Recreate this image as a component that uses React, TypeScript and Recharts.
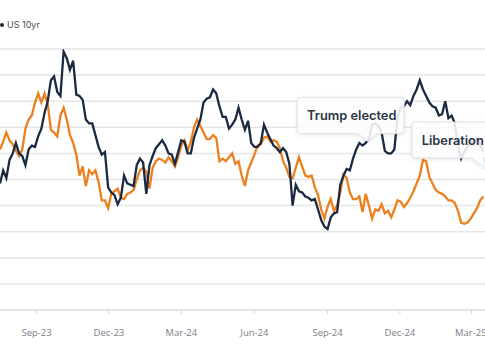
import { CartesianGrid, Line, LineChart, ReferenceDot, XAxis, YAxis } from 'recharts';

const DATES = [
  '2023-07-31', '2023-08-04', '2023-08-08', '2023-08-12', '2023-08-16', '2023-08-20', '2023-08-24', '2023-08-28', '2023-09-01', '2023-09-05',
  '2023-09-09', '2023-09-13', '2023-09-17', '2023-09-21', '2023-09-25', '2023-09-29', '2023-10-03', '2023-10-07', '2023-10-11', '2023-10-15',
  '2023-10-19', '2023-10-23', '2023-10-27', '2023-10-31', '2023-11-04', '2023-11-08', '2023-11-12', '2023-11-16', '2023-11-20', '2023-11-24',
  '2023-11-28', '2023-12-02', '2023-12-06', '2023-12-10', '2023-12-14', '2023-12-18', '2023-12-22', '2023-12-26', '2023-12-30', '2024-01-03',
  '2024-01-07', '2024-01-11', '2024-01-15', '2024-01-19', '2024-01-23', '2024-01-27', '2024-01-31', '2024-02-04', '2024-02-08', '2024-02-12',
  '2024-02-16', '2024-02-20', '2024-02-24', '2024-02-28', '2024-03-03', '2024-03-07', '2024-03-11', '2024-03-15', '2024-03-19', '2024-03-23',
  '2024-03-27', '2024-03-31', '2024-04-04', '2024-04-08', '2024-04-12', '2024-04-16', '2024-04-20', '2024-04-24', '2024-04-28', '2024-05-02',
  '2024-05-06', '2024-05-10', '2024-05-14', '2024-05-18', '2024-05-22', '2024-05-26', '2024-05-30', '2024-06-03', '2024-06-07', '2024-06-11',
  '2024-06-15', '2024-06-19', '2024-06-23', '2024-06-27', '2024-07-01', '2024-07-05', '2024-07-09', '2024-07-13', '2024-07-17', '2024-07-21',
  '2024-07-25', '2024-07-29', '2024-08-02', '2024-08-06', '2024-08-10', '2024-08-14', '2024-08-18', '2024-08-22', '2024-08-26', '2024-08-30',
  '2024-09-03', '2024-09-07', '2024-09-11', '2024-09-15', '2024-09-19', '2024-09-23', '2024-09-27', '2024-10-01', '2024-10-05', '2024-10-09',
  '2024-10-13', '2024-10-17', '2024-10-21', '2024-10-25', '2024-10-29', '2024-11-02', '2024-11-06', '2024-11-10', '2024-11-14', '2024-11-18',
  '2024-11-22', '2024-11-26', '2024-11-30', '2024-12-04', '2024-12-08', '2024-12-12', '2024-12-16', '2024-12-20', '2024-12-24', '2024-12-28',
  '2025-01-01', '2025-01-05', '2025-01-09', '2025-01-13', '2025-01-17', '2025-01-21', '2025-01-25', '2025-01-29', '2025-02-02', '2025-02-06',
  '2025-02-10', '2025-02-14', '2025-02-18', '2025-02-22', '2025-02-26', '2025-03-02', '2025-03-06', '2025-03-10', '2025-03-14', '2025-03-18',
  '2025-03-22', '2025-03-26', '2025-03-30',
];

const US_10YR = [
  3.97, 4.07, 4.01, 4.15, 4.2, 4.28, 4.2, 4.18, 4.11, 4.23,
  4.26, 4.25, 4.33, 4.39, 4.51, 4.6, 4.76, 4.79, 4.67, 4.64,
  4.98, 4.93, 4.84, 4.91, 4.65, 4.64, 4.61, 4.46, 4.43, 4.43,
  4.34, 4.25, 4.19, 4.21, 3.94, 3.9, 3.88, 3.81, 3.86, 4.03,
  3.97, 3.96, 3.95, 4.11, 4.16, 4.13, 3.89, 4.11, 4.18, 4.24,
  4.27, 4.3, 4.26, 4.2, 4.19, 4.12, 4.21, 4.3, 4.29, 4.2,
  4.2, 4.32, 4.39, 4.46, 4.59, 4.62, 4.63, 4.69, 4.66, 4.56,
  4.48, 4.48, 4.39, 4.42, 4.46, 4.55, 4.46, 4.38, 4.45, 4.28,
  4.25, 4.25, 4.28, 4.42, 4.36, 4.31, 4.26, 4.24, 4.21, 4.24,
  4.21, 4.12, 3.8, 3.96, 3.91, 3.9, 3.87, 3.86, 3.84, 3.85,
  3.77, 3.69, 3.64, 3.62, 3.71, 3.74, 3.75, 3.96, 4.03, 4.08,
  4.07, 4.16, 4.23, 4.28, 4.26, 4.28, 4.31, 4.42, 4.43, 4.41,
  4.36, 4.22, 4.2, 4.2, 4.23, 4.48, 4.55, 4.56, 4.6, 4.57,
  4.64, 4.69, 4.76, 4.69, 4.64, 4.59, 4.56, 4.55, 4.49, 4.5,
  4.6, 4.47, 4.49, 4.43, 4.26, 4.16, 4.21, 4.25, 4.3, 4.27,
  4.32, 4.26, 4.21,
];

const ORANGE_SERIES = [
  4.23, 4.29, 4.36, 4.3, 4.27, 4.22, 4.18, 4.23, 4.39, 4.46,
  4.49, 4.59, 4.66, 4.59, 4.66, 4.58, 4.38, 4.36, 4.33, 4.49,
  4.55, 4.46, 4.34, 4.28, 4.19, 4.03, 4.1, 3.95, 4.07, 4.04,
  4.07, 3.98, 3.84, 3.84, 3.78, 3.89, 3.91, 3.93, 3.86, 3.85,
  3.89, 3.9, 3.92, 4.0, 4.07, 4.09, 4.06, 3.93, 4.09, 4.14,
  4.16, 4.15, 4.13, 4.17, 4.14, 4.1, 4.17, 4.26, 4.3, 4.22,
  4.29, 4.4, 4.46, 4.41, 4.36, 4.31, 4.31, 4.34, 4.32, 4.14,
  4.16, 4.14, 4.17, 4.2, 4.12, 4.14, 4.03, 3.95, 4.07, 4.13,
  4.19, 4.26, 4.27, 4.32, 4.33, 4.29, 4.3, 4.29, 4.24, 4.14,
  4.09, 4.02, 4.01, 4.09, 4.17, 4.1, 4.03, 4.02, 4.03, 3.94,
  3.88, 3.77, 3.7, 3.79, 3.85, 3.76, 3.8, 3.9, 4.04, 4.01,
  3.9, 3.85, 3.85, 3.87, 3.75, 3.89, 3.8, 3.7, 3.77, 3.76,
  3.81, 3.74, 3.76, 3.71, 3.77, 3.84, 3.83, 3.79, 3.82, 3.86,
  3.91, 3.97, 4.03, 4.15, 4.14, 4.02, 3.97, 3.92, 3.9, 3.89,
  3.87, 3.84, 3.84, 3.82, 3.76, 3.67, 3.66, 3.67, 3.7, 3.74,
  3.78, 3.84, 3.87,
];

const TICK_DATES = ['2023-09-15', '2023-12-15', '2024-03-15', '2024-06-15', '2024-09-15', '2024-12-15', '2025-03-15'];
const TICK_LABELS = ['Sep-23', 'Dec-23', 'Mar-24', 'Jun-24', 'Sep-24', 'Dec-24', 'Mar-25'];
const Y_TICKS = [3.0, 3.2, 3.4, 3.6, 3.8, 4.0, 4.2, 4.4, 4.6, 4.8, 5.0];

const EVENT_DATES = ['2024-11-05', '2025-04-02'];
const EVENT_VALUES = [4.29, 4.08];
const EVENT_LABELS = ['Trump elected', 'Liberation'];

const X_START = '2023-07-31';
const X_END = '2025-04-01';

const NAVY = '#1b2a41';
const ORANGE = '#ec7f1e';
const GRID = '#e6e6e6';
const AXIS_TEXT = '#7b8088';

// callout box geometry, relative to the pointer tip
const CALLOUTS = [
  { dx: -71, w: 107, dy: -44, h: 36, tailL: -10, tailR: 9 },
  { dx: -74, w: 124, dy: -47, h: 36, tailL: -14, tailR: -2 },
];

const toTime = (d: string) => Date.parse(d);

const data = DATES.map((d, i) => ({
  t: toTime(d),
  us: US_10YR[i],
  other: ORANGE_SERIES[i],
}));

function calloutPath(x: number, y: number, w: number, h: number, r: number, tl: number, tr: number, tipX: number, tipY: number) {
  const b = y + h;
  return [
    `M${x + r},${y}`,
    `H${x + w - r}`,
    `Q${x + w},${y} ${x + w},${y + r}`,
    `V${b - r}`,
    `Q${x + w},${b} ${x + w - r},${b}`,
    `H${tr}`,
    `L${tipX},${tipY}`,
    `L${tl},${b}`,
    `H${x + r}`,
    `Q${x},${b} ${x},${b - r}`,
    `V${y + r}`,
    `Q${x},${y} ${x + r},${y}`,
    'Z',
  ].join(' ');
}

function Callout({ cx, cy, label, idx }: { cx?: number; cy?: number; label: string; idx: number }) {
  if (cx == null || cy == null) return null;
  const c = CALLOUTS[idx];
  const x = cx + c.dx;
  const y = cy + c.dy;
  return (
    <g>
      <path
        d={calloutPath(x, y, c.w, c.h, 4, cx + c.tailL, cx + c.tailR, cx, cy)}
        fill="#ffffff"
        fillOpacity={0.88}
        stroke="#dde1e6"
        strokeWidth={1}
        style={{ filter: 'drop-shadow(0 1px 2px rgba(0,0,0,0.10))' }}
      />
      <text
        x={x + 10}
        y={y + c.h / 2}
        dominantBaseline="central"
        fontFamily="Inter, 'Open Sans', sans-serif"
        fontWeight={600}
        fontSize={12.8}
        fill="#2b3546"
      >
        {label}
      </text>
    </g>
  );
}

const tickLabel = (t: number) => {
  const i = TICK_DATES.findIndex((d) => toTime(d) === t);
  return i >= 0 ? TICK_LABELS[i] : '';
};

export default function App() {
  return (
    <div
      style={{
        position: 'absolute',
        left: 0,
        top: 0,
        width: 485,
        height: 360,
        overflow: 'hidden',
        background: '#fff',
      }}
    >
      <div
        style={{
          position: 'absolute',
          left: 0,
          top: 19,
          display: 'flex',
          alignItems: 'center',
          fontFamily: "Inter, 'Open Sans', sans-serif",
          fontSize: 9,
          color: '#4a4f57',
          zIndex: 2,
        }}
      >
        <span style={{ width: 4, height: 4, borderRadius: 2, background: NAVY, display: 'inline-block', marginRight: 3 }} />
        US 10yr
      </div>
      <LineChart width={485} height={360} data={data} margin={{ top: 49, right: 0, bottom: 0, left: 0 }}>
        <CartesianGrid stroke={GRID} strokeWidth={1.5} vertical={false} />
        <XAxis
          dataKey="t"
          type="number"
          scale="linear"
          domain={[toTime(X_START), toTime(X_END)]}
          ticks={TICK_DATES.map(toTime)}
          tickFormatter={tickLabel}
          height={50}
          tickSize={4}
          tickMargin={15}
          tick={{ fill: AXIS_TEXT, fontSize: 9.5, fontFamily: "'Open Sans', sans-serif" }}
          tickLine={{ stroke: '#d6d6d6' }}
          axisLine={{ stroke: '#e3e3e3', strokeWidth: 1.5 }}
          allowDataOverflow
        />
        <YAxis hide domain={[3, 5]} ticks={Y_TICKS} allowDataOverflow />
        <Line
          dataKey="other"
          stroke={ORANGE}
          strokeWidth={2.3}
          dot={false}
          type="linear"
          isAnimationActive={false}
        />
        <Line
          dataKey="us"
          name="US 10yr"
          stroke={NAVY}
          strokeWidth={2.3}
          dot={false}
          type="linear"
          isAnimationActive={false}
        />
        {EVENT_DATES.map((d, i) => (
          <ReferenceDot
            key={d}
            x={toTime(d)}
            y={EVENT_VALUES[i]}
            ifOverflow="visible"
            zIndex={1500}
            shape={(p: { cx?: number; cy?: number }) => (
              <Callout cx={p.cx} cy={p.cy} label={EVENT_LABELS[i]} idx={i} />
            )}
          />
        ))}
      </LineChart>
    </div>
  );
}
